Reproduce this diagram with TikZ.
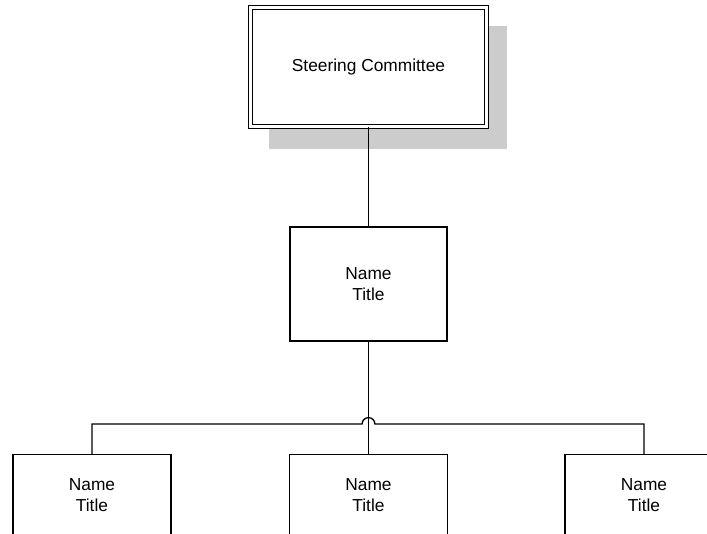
\documentclass[tikz,border=0pt]{standalone}
\usepackage{fontspec}
\setmainfont{Liberation Sans}
\begin{document}
\begin{tikzpicture}[x=0.75pt,y=-0.75pt,
  box/.style={draw=black,line width=0.9pt,fill=white,align=center,inner sep=0pt,
    font=\fontsize{13}{15.75}\selectfont},
  shadowbox/.style={fill=black!20,draw=none,inner sep=0pt},
  link/.style={draw=black,line width=1pt}]
\useasboundingbox (0,0) rectangle (707,534);
\clip (0,0) rectangle (707,534);
% shadow of the top box
\node[shadowbox,minimum width=178.5pt,minimum height=92.25pt] (shadow) at (388,87.5) {};
% top box with double border
\node[box,double=white,double distance=1.6pt,line width=0.8pt,
      minimum width=177pt,minimum height=89.25pt] (top) at (368.5,67) {Steering Committee};
% middle box
\node[box,minimum width=117.75pt,minimum height=85.5pt] (mid) at (368.5,284) {Name\\Title};
% bottom boxes
\node[box,minimum width=118.5pt,minimum height=60.75pt] (b1) at (92,495) {Name\\Title};
\node[box,minimum width=118.5pt,minimum height=60.75pt] (b2) at (368.5,495) {Name\\Title};
\node[box,minimum width=118.5pt,minimum height=60.75pt] (b3) at (644,495) {Name\\Title};
% connectors
\coordinate (bus) at (368.5,424);
\draw[link] (top.south) -- (mid.north);
\draw[link] (mid.south) -- (b2.north);
\draw[link] (b1.north) |- ([xshift=-4.8pt]bus)
  arc[start angle=180,end angle=0,radius=4.8pt] -| (b3.north);
\end{tikzpicture}
\end{document}
